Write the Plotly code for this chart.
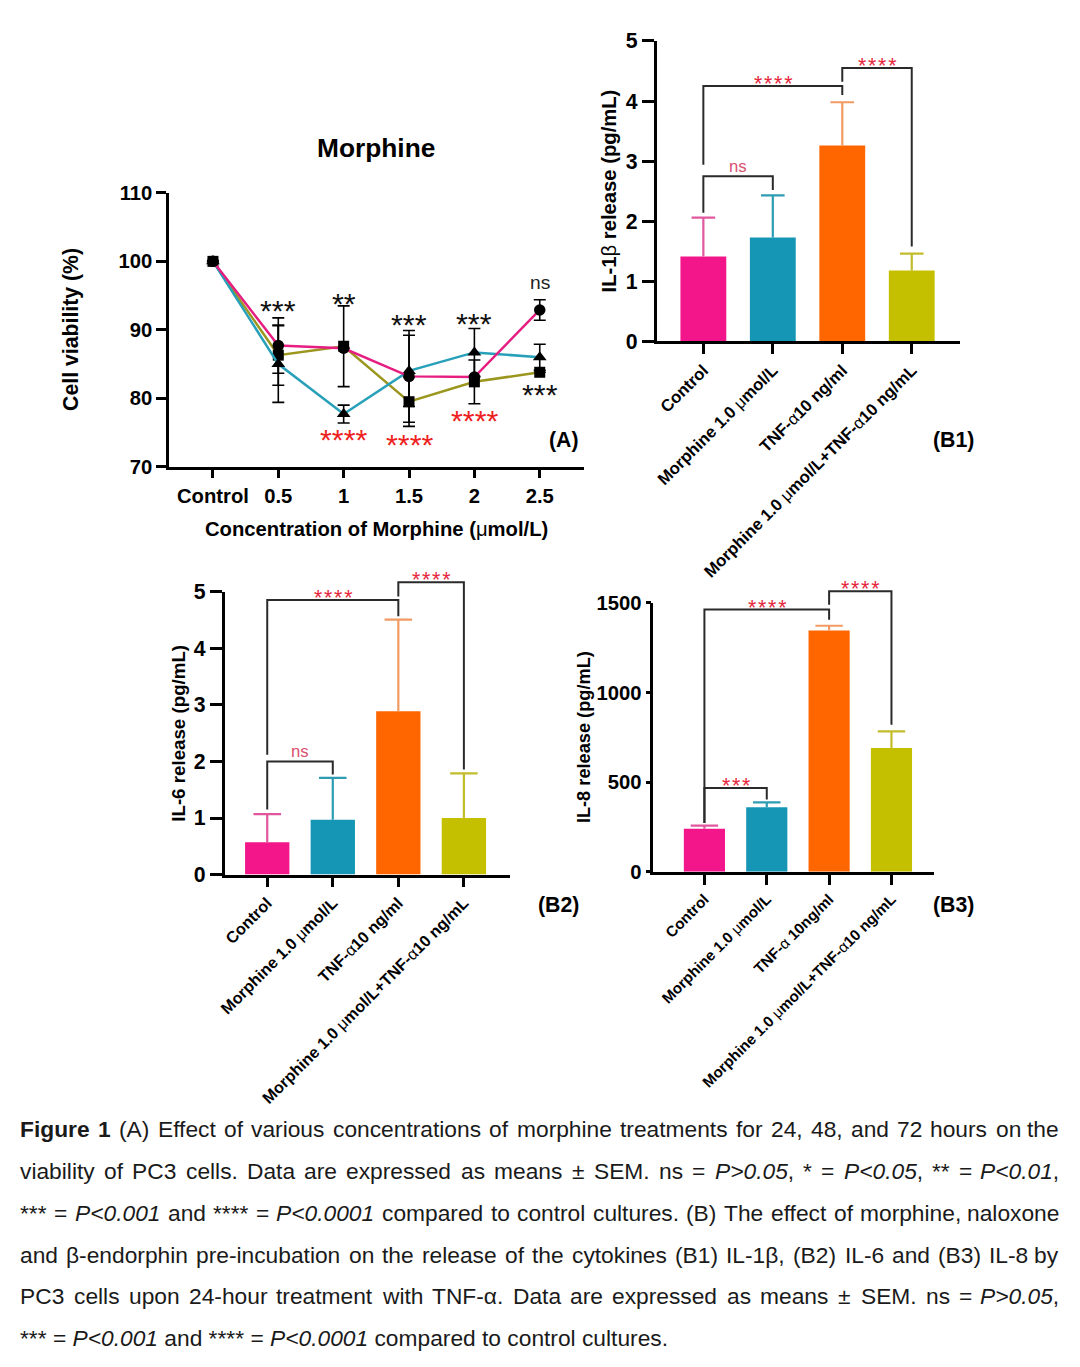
import re
import plotly.graph_objects as go

W, H = 1080, 1367
FONT = "Arial, 'Liberation Sans', Helvetica, sans-serif"

# The photographed page maps the figure onto a slightly inset area; positions below
# are given in reference-image pixels and converted to figure fractions here.
OX, OY, SX, SY = 6.0, 12.0, 0.9926, 0.983
FS = 1.012  # font compensation for the slight shrink


def dxp(px):
    return (px - OX) / SX


def fx(px):
    return dxp(px) / W


def fy(py):
    return 1 - ((py - OY) / SY) / H


def fs(s):
    return s * FS


# ---------------- Panel A data ----------------
a_categories = ["Control", "0.5", "1", "1.5", "2", "2.5"]
a_pink = [100, 87.7, 87.3, 83.2, 83.1, 92.9]
a_pink_err = [None, 4.05, None, 6.7, None, 1.5]
a_olive = [100, 86.3, 87.6, 79.5, 82.4, 83.8]
a_olive_err = [None, 4.4, 5.9, 3.6, 3.2, None]
a_teal = [100, 85.0, 77.7, 84.0, 86.7, 86.0]
a_teal_err = [None, 5.6, 1.3, 5.2, 3.5, 1.9]

a_sig_pos = [1, 2, 3, 4, 5, 5, 2, 3, 4]
a_sig_val = [93.65, 94.67, 91.6, 91.75, 96.9, 81.5, 74.9, 74.1, 77.7]
a_sig_text = ["***", "**", "***", "***", "ns", "***", "****", "****", "****"]
a_sig_red = [False, False, False, False, False, False, True, True, True]

# ---------------- Panel B data ----------------
b_labels_12 = ["Control", "Morphine 1.0 μmol/L", "TNF-α10 ng/ml",
               "Morphine 1.0 μmol/L+TNF-α10 ng/mL"]
b_labels_3 = ["Control", "Morphine 1.0 μmol/L", "TNF-α 10ng/ml",
              "Morphine 1.0 μmol/L+TNF-α10 ng/mL"]

b1_mean = [1.41, 1.73, 3.26, 1.18]
b1_err = [0.65, 0.70, 0.72, 0.28]
b2_mean = [0.57, 0.97, 2.89, 1.00]
b2_err = [0.50, 0.74, 1.62, 0.79]
b3_mean = [240, 360, 1347, 691]
b3_err = [18, 28, 26, 93]

# significance brackets: from-bar, to-bar, left leg bottom, top, right leg bottom, label
b1_br_from = [0, 0, 2]
b1_br_to = [1, 2, 3]
b1_br_left = [2.14, 2.94, 4.32]
b1_br_top = [2.75, 4.25, 4.55]
b1_br_right = [2.52, 4.10, 1.58]
b1_br_text = ["ns", "****", "****"]

b2_br_from = [0, 0, 2]
b2_br_to = [1, 2, 3]
b2_br_left = [1.15, 2.12, 4.92]
b2_br_top = [2.0, 4.86, 5.17]
b2_br_right = [1.77, 4.57, 1.86]
b2_br_text = ["ns", "****", "****"]

b3_br_from = [0, 0, 2]
b3_br_to = [1, 2, 3]
b3_br_left = [273, 273, 1490]
b3_br_top = [468, 1463, 1565]
b3_br_right = [403, 1407, 821]
b3_br_text = ["***", "****", "****"]

# ---------------- styles ----------------
PINK_L, OLIVE_L, TEAL_L = "#E61E82", "#9B961E", "#28A0B9"
b_colors = ["#F2168A", "#1496B4", "#FF6600", "#C4C000"]
b_err_colors = ["#E0579E", "#2E9CB2", "#F29A62", "#C2BC2A"]
STAR_RED_A = "#EE2222"
STAR_RED_B = "#E5263C"
NS_RED = "#D9506E"


def light_greek(s):
    return (s.replace("μ", "<span style='font-weight:normal'>μ</span>")
             .replace("α", "<span style='font-weight:normal'>α</span>")
             .replace("β", "<span style='font-weight:normal'>β</span>"))


def ax(**kw):
    d = dict(showline=True, linecolor="black", linewidth=2.5, ticks="outside",
             tickwidth=2.5, ticklen=8, tickcolor="black", showgrid=False,
             zeroline=False, fixedrange=True,
             tickfont=dict(family=FONT, size=fs(20), color="black", weight="bold"))
    d.update(kw)
    return d


fig = go.Figure()
layout = {}
annotations = []

# ---------------- Panel A ----------------
xs = list(range(len(a_categories)))
for vals, errs, col, sym, sz in [(a_olive, a_olive_err, OLIVE_L, "square", 11),
                                 (a_teal, a_teal_err, TEAL_L, "triangle-up", 12),
                                 (a_pink, a_pink_err, PINK_L, "circle", 11.5)]:
    fig.add_trace(go.Scatter(
        x=xs, y=vals, mode="lines+markers",
        line=dict(color=col, width=2.5),
        marker=dict(symbol=sym, size=sz, color="black"),
        error_y=dict(type="data", array=errs, color="black", thickness=1.6, width=6),
        xaxis="x", yaxis="y", cliponaxis=False, showlegend=False))

layout["xaxis"] = ax(domain=[fx(168), fx(582)], range=[-0.67, 5.67], anchor="y",
                     tickvals=xs, ticktext=a_categories, ticklen=9)
layout["yaxis"] = ax(domain=[fy(467), fy(193)], range=[70, 110], anchor="x",
                     tickvals=[70, 80, 90, 100, 110], ticklen=10)

for p, v, t, red in zip(a_sig_pos, a_sig_val, a_sig_text, a_sig_red):
    if t == "ns":
        annotations.append(dict(x=p, y=v, xref="x", yref="y", text=t,
                                font=dict(family=FONT, size=fs(19), color="#222")))
    else:
        annotations.append(dict(x=p, y=v, xref="x", yref="y", text=t, yshift=-6,
                                font=dict(family=FONT, size=fs(30),
                                          color=STAR_RED_A if red else "#111")))

annotations += [
    dict(x=fx(375), y=fy(148), text="Morphine",
         font=dict(family=FONT, size=fs(26), color="black", weight="bold")),
    dict(x=fx(375), y=fy(529), text=light_greek("Concentration of Morphine (μmol/L)"),
         font=dict(family=FONT, size=fs(20), color="black", weight="bold")),
    dict(x=fx(70), y=fy(330), text="Cell viability (%)", textangle=-90,
         font=dict(family=FONT, size=fs(21), color="black", weight="bold")),
    dict(x=fx(562), y=fy(440), text="(A)",
         font=dict(family=FONT, size=fs(21), color="black", weight="bold")),
]

# ---------------- Panels B ----------------
b_panels = [
    dict(n=2, h=5, mean=b1_mean, err=b1_err, labels=b_labels_12,
         px_x0=655, px_x1=958, px_y0=341.5, px_y1=41, ymax=5, ytop=5.4,
         xr=[-0.673, 3.693], barw=0.66, cap=0.17, yt=[0, 1, 2, 3, 4, 5],
         ytick_size=21, ytick_len=12, xlab_size=16.5,
         br=(b1_br_from, b1_br_to, b1_br_left, b1_br_top, b1_br_right, b1_br_text)),
    dict(n=3, h=6, mean=b2_mean, err=b2_err, labels=b_labels_12,
         px_x0=223.3, px_x1=508.3, px_y0=875, px_y1=592.3, ymax=5, ytop=5.5,
         xr=[-0.652, 3.70], barw=0.676, cap=0.21, yt=[0, 1, 2, 3, 4, 5],
         ytick_size=21, ytick_len=12, xlab_size=16,
         br=(b2_br_from, b2_br_to, b2_br_left, b2_br_top, b2_br_right, b2_br_text)),
    dict(n=4, h=7, mean=b3_mean, err=b3_err, labels=b_labels_3,
         px_x0=651.7, px_x1=932, px_y0=872.3, px_y1=603.3, ymax=1500, ytop=1700,
         xr=[-0.82, 3.68], barw=0.66, cap=0.22, yt=[0, 500, 1000, 1500],
         ytick_size=20, ytick_len=5, xlab_size=15,
         br=(b3_br_from, b3_br_to, b3_br_left, b3_br_top, b3_br_right, b3_br_text)),
]

for P in b_panels:
    n, h = P["n"], P["h"]
    xa, ya = f"x{n}", f"y{n}"
    xh, yh = f"x{h}", f"y{h}"
    for i, (m, e) in enumerate(zip(P["mean"], P["err"])):
        fig.add_trace(go.Bar(x=[i], y=[m], width=[P["barw"]],
                             marker=dict(color=b_colors[i], line=dict(width=0)),
                             xaxis=xa, yaxis=ya, showlegend=False))
        c = P["cap"]
        fig.add_trace(go.Scatter(x=[i, i, None, i - c, i + c],
                                 y=[m, m + e, None, m + e, m + e],
                                 mode="lines", line=dict(color=b_err_colors[i], width=2.2),
                                 xaxis=xa, yaxis=ya, showlegend=False, hoverinfo="skip"))
    xdom = [fx(P["px_x0"]), fx(P["px_x1"])]
    ydom = [fy(P["px_y0"]), fy(P["px_y1"])]
    layout[f"xaxis{n}"] = ax(domain=xdom, range=P["xr"], anchor=ya,
                             tickvals=[0, 1, 2, 3],
                             ticktext=[light_greek(s) for s in P["labels"]],
                             tickangle=-45, ticklen=10,
                             tickfont=dict(family=FONT, size=fs(P["xlab_size"]),
                                           color="black", weight="bold"))
    layout[f"yaxis{n}"] = ax(domain=ydom, range=[0, P["ymax"]], anchor=xa,
                             tickvals=P["yt"], ticklen=P["ytick_len"],
                             tickfont=dict(family=FONT, size=fs(P["ytick_size"]),
                                           color="black", weight="bold"))
    # helper axes with the same scale, taller, for brackets above the axis top
    top_px = P["px_y0"] - (P["px_y0"] - P["px_y1"]) * P["ytop"] / P["ymax"]
    layout[f"xaxis{h}"] = dict(domain=xdom, range=P["xr"], anchor=yh, visible=False,
                               fixedrange=True)
    layout[f"yaxis{h}"] = dict(domain=[ydom[0], fy(top_px)], range=[0, P["ytop"]],
                               anchor=xh, visible=False, fixedrange=True)
    for a, b, l, t, r, s in zip(*P["br"]):
        fig.add_trace(go.Scatter(x=[a, a, b, b], y=[l, t, t, r], mode="lines",
                                 line=dict(color="#2a2a2a", width=2),
                                 xaxis=xh, yaxis=yh, showlegend=False, hoverinfo="skip"))
        if s == "ns":
            annotations.append(dict(x=(a + b) / 2, y=t, xref=xh, yref=yh, text=s,
                                    yshift=10,
                                    font=dict(family=FONT, size=fs(16.5), color=NS_RED)))
        else:
            annotations.append(dict(x=(a + b) / 2, y=t, xref=xh, yref=yh,
                                    text="\u200a".join(s), yshift=2,
                                    font=dict(family=FONT, size=fs(21), color=STAR_RED_B)))

annotations += [
    dict(x=fx(607), y=fy(191), text=light_greek("IL-1β release (pg/mL)"), textangle=-90,
         font=dict(family=FONT, size=fs(20), color="black", weight="bold")),
    dict(x=fx(177), y=fy(734), text="IL-6 release (pg/mL)", textangle=-90,
         font=dict(family=FONT, size=fs(18.5), color="black", weight="bold")),
    dict(x=fx(582), y=fy(738), text="IL-8 release (pg/mL)", textangle=-90,
         font=dict(family=FONT, size=fs(18), color="black", weight="bold")),
    dict(x=fx(952), y=fy(440), text="(B1)",
         font=dict(family=FONT, size=fs(21), color="black", weight="bold")),
    dict(x=fx(557), y=fy(906), text="(B2)",
         font=dict(family=FONT, size=fs(21), color="black", weight="bold")),
    dict(x=fx(952), y=fy(906), text="(B3)",
         font=dict(family=FONT, size=fs(21), color="black", weight="bold")),
]

# ---------------- Caption (justified word by word) ----------------
caption_lines = [
    "<b>Figure</b> <b>1</b> (A) Effect of various concentrations of morphine treatments for 24, 48, and 72 hours on the",
    "viability of PC3 cells. Data are expressed as means ± SEM. ns = <i>P{gt}0.05</i>, * = <i>P{lt}0.05</i>, ** = <i>P{lt}0.01</i>,",
    "*** = <i>P{lt}0.001</i> and **** = <i>P{lt}0.0001</i> compared to control cultures. (B) The effect of morphine, naloxone",
    "and β-endorphin pre-incubation on the release of the cytokines (B1) IL-1β, (B2) IL-6 and (B3) IL-8 by",
    "PC3 cells upon 24-hour treatment with TNF-α. Data are expressed as means ± SEM. ns = <i>P{gt}0.05</i>,",
    "*** = <i>P{lt}0.001</i> and **** = <i>P{lt}0.0001</i> compared to control cultures.",
]
caption_y = [1130, 1172, 1214, 1256, 1297, 1339]
caption_justify = [True, True, True, True, True, False]
CAP_SIZE = fs(22.5)
CAP_LEFT, CAP_RIGHT = 18, 1058
WIDTH_FUDGE = 1.006

REG = {' ': .278, 'a': .556, 'b': .556, 'c': .5, 'd': .556, 'e': .556, 'f': .278, 'g': .556,
       'h': .556, 'i': .222, 'j': .222, 'k': .5, 'l': .222, 'm': .833, 'n': .556, 'o': .556,
       'p': .556, 'q': .556, 'r': .333, 's': .5, 't': .278, 'u': .556, 'v': .5, 'w': .722,
       'x': .5, 'y': .5, 'z': .5, 'A': .667, 'B': .667, 'C': .722, 'D': .722, 'E': .667,
       'F': .611, 'G': .778, 'H': .722, 'I': .278, 'L': .556, 'M': .833, 'N': .722,
       'O': .778, 'P': .667, 'S': .667, 'T': .611, '(': .333, ')': .333, '.': .278,
       ',': .278, '-': .333, '=': .584, '*': .389, '<': .584, '>': .584, '±': .584,
       '/': .278, 'α': .578, 'β': .575}
BOLD = {'F': .611, 'i': .278, 'g': .611, 'u': .611, 'r': .389, 'e': .556, '1': .556, ' ': .278}


def word_width(word, size):
    bold = False
    w = 0.0
    for part in re.split(r'(</?[bi]>)', word):
        if part == '<b>':
            bold = True
            continue
        if part == '</b>':
            bold = False
            continue
        if part in ('<i>', '</i>'):
            continue
        part = part.replace('{lt}', '<').replace('{gt}', '>')
        for ch in part:
            w += (BOLD if bold else REG).get(ch, .556)
    return w * size * WIDTH_FUDGE


def render(word):
    return word.replace('{lt}', '&lt;').replace('{gt}', '&gt;')


cap_font = dict(family=FONT, size=CAP_SIZE, color="#1a1a1a")
left_d, right_d = dxp(CAP_LEFT), dxp(CAP_RIGHT)
for line, py, just in zip(caption_lines, caption_y, caption_justify):
    if not just:
        annotations.append(dict(x=left_d / W, y=fy(py), text=render(line), xanchor="left",
                                font=cap_font))
        continue
    words = line.split(" ")
    widths = [word_width(w, CAP_SIZE) for w in words]
    gap = (right_d - left_d - sum(widths)) / (len(words) - 1)
    xpos = left_d
    for k, (w, ww) in enumerate(zip(words, widths)):
        if k == len(words) - 1:
            annotations.append(dict(x=right_d / W, y=fy(py), text=render(w),
                                    xanchor="right", font=cap_font))
        else:
            annotations.append(dict(x=xpos / W, y=fy(py), text=render(w),
                                    xanchor="left", font=cap_font))
        xpos += ww + gap

for a in annotations:
    a.setdefault("xref", "paper")
    a.setdefault("yref", "paper")
    a.setdefault("xanchor", "center")
    a.setdefault("yanchor", "middle")
    a.setdefault("showarrow", False)
    a.setdefault("borderpad", 0)

fig.update_layout(
    width=W, height=H, margin=dict(l=0, r=0, t=0, b=0),
    paper_bgcolor="white", plot_bgcolor="rgba(0,0,0,0)",
    barmode="overlay", showlegend=False, annotations=annotations,
    **layout,
)

fig.write_html("out.html", config={"displayModeBar": False},
               post_script="document.body.style.margin='0px';")
